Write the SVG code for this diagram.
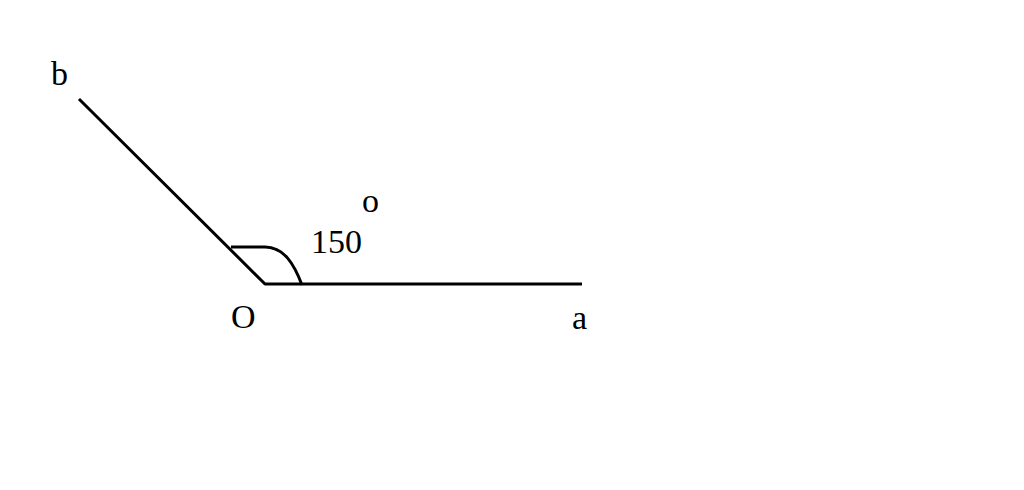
<svg xmlns="http://www.w3.org/2000/svg" width="1024" height="490" viewBox="0 0 1024 490">
<style>
.ln{fill:none;stroke:#000;stroke-width:3;stroke-linecap:butt;stroke-linejoin:round}
.t{font-family:"Liberation Serif","DejaVu Serif",serif;font-size:34px;fill:#000}
</style>
<rect width="1024" height="490" fill="#fff"/>
<g id="connectors">
<path class="ln" d="M79,99 L265,284 L582,284"/>
<path class="ln" d="M231,247 L265,247 C284,247 294,264 302,285"/>
</g>
<g id="label-b"><text class="t" x="51" y="85">b</text></g>
<g id="label-O"><text class="t" x="231" y="328">O</text></g>
<g id="label-a"><text class="t" x="572" y="329">a</text></g>
<g id="label-angle"><text class="t" x="311" y="253">150</text><text class="t" x="362" y="212">o</text></g>
</svg>
